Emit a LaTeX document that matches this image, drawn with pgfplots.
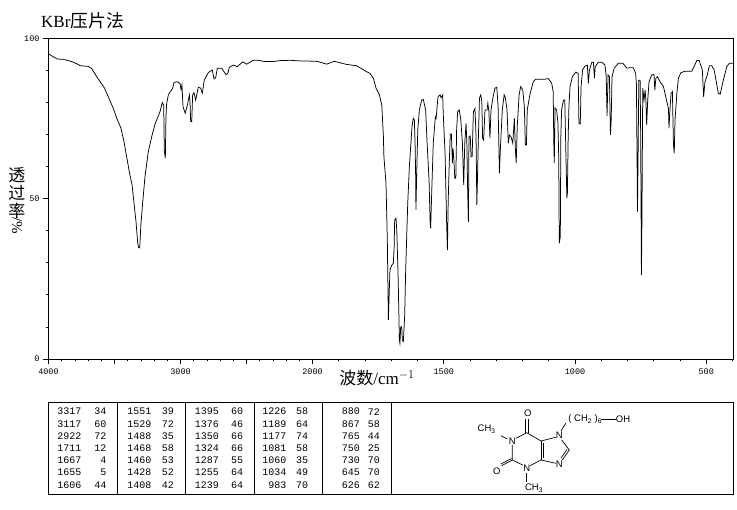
\documentclass[border=0pt]{standalone}
\usepackage{fontspec}
\usepackage{pgfplots}
\pgfplotsset{compat=1.18}
\setmainfont{Liberation Serif}
\setsansfont{Liberation Sans}
\setmonofont{Liberation Mono}
\newfontfamily\cjk{Noto Sans CJK SC}

% one row of the peak table column: wavenumber and %T, right aligned
\newcommand{\tcol}[3]{%
  \foreach \w/\t [count=\i from 0] in {#3} {
    \pgfmathsetmacro{\yy}{411.7+12.2*\i}
    \node[anchor=east,inner sep=0pt,font=\fontsize{10}{10}\selectfont\ttfamily] at (#1,\yy) {\w};
    \node[anchor=east,inner sep=0pt,font=\fontsize{10}{10}\selectfont\ttfamily] at (#2,\yy) {\t};
  }}

\begin{document}
\begin{tikzpicture}
\path (0pt,0pt) rectangle (737pt,-510pt);
\begin{axis}[
    at={(48.5pt,-359pt)}, anchor=south west,
    scale only axis, width=684.8pt, height=320.5pt,
    % the wavenumber axis doubles its scale below 2000
    x coord trafo/.code={\pgfmathparse{#1>=2000 ? 4000-#1 : 2000+1.9886*(2000-#1)}},
    xmin=4000, xmax=397, ymin=0, ymax=100,
    xtick={4000,3500,3000,2500,2000,1500,1000,500},
    xticklabels={4000,,3000,,2000,1500,1000,500},
    minor xtick={3900,3800,3700,3600,3400,3300,3200,3100,2900,2800,2700,2600,2400,2300,2200,2100,1900,1800,1700,1600,1400,1300,1200,1100,900,800,700,600,400},
    ytick={0,50,100},
    yticklabels={0,50,100},
    minor ytick={10,20,30,40,60,70,80,90},
    tick pos=left, tick align=outside,
    major tick length=5.5pt, minor tick length=2.5pt,
    tick style={black,line width=0.8pt},
    axis line style={line width=0.9pt},
    tick label style={font=\fontsize{8.5}{9}\selectfont\ttfamily},
    xticklabel style={yshift=-1pt},
    clip=true,
]
\addplot[black,line width=0.75pt] coordinates {
(4000,95.2)(3964,94.3)(3933,93.6)(3888,93.5)(3824,92.8)(3774,91.9)(3761,91.5)(3698,91.3)(3673,90.6)(3635,88.1)
(3577,84.6)(3547,81.8)(3509,78.2)(3483,75.1)(3451,72.0)(3428,67.8)(3408,63.1)(3388,58.4)(3367,54.3)(3352,48.6)
(3337,42.8)(3324,36.1)(3317,34.7)(3309,34.7)(3301,41.3)(3286,49.1)(3269,56.9)(3244,64.7)(3218,69.4)(3193,73.3)
(3155,77.2)(3138,80.0)(3127,79.2)(3123,65.2)(3115,62.6)(3110,75.6)(3105,79.6)(3092,82.4)(3059,84.5)(3049,86.3)
(3024,86.5)(3004,86.0)(2996,84.1)(2989,85.5)(2981,78.7)(2964,76.7)(2948,79.2)(2933,82.4)(2928,80.3)(2923,74.0)
(2915,74.0)(2908,82.4)(2898,83.1)(2885,80.8)(2865,84.8)(2847,84.5)(2835,82.9)(2820,87.0)(2789,89.4)(2759,90.2)
(2746,87.4)(2733,87.9)(2721,90.7)(2688,90.7)(2655,88.7)(2642,89.1)(2630,91.0)(2600,91.7)(2570,91.2)(2529,92.7)
(2498,92.0)(2448,93.2)(2411,93.2)(2360,92.8)(2297,92.8)(2246,93.1)(2170,93.2)(2095,93.0)(1984,92.9)(1946,92.0)
(1917,92.9)(1870,91.9)(1832,91.5)(1793,89.6)(1781,89.1)(1768,87.6)(1758,84.5)(1745,82.4)(1736,79.2)(1730,69.4)
(1728,63.1)(1720,54.8)(1715,37.1)(1711,12.2)(1707,22.6)(1705,27.8)(1698,29.3)(1692,29.9)(1689,35.0)(1687,43.4)
(1682,43.9)(1679,40.2)(1674,26.2)(1669,5.9)(1667,4.9)(1664,10.1)(1660,10.1)(1658,5.9)(1654,5.4)(1649,13.2)
(1645,27.8)(1640,41.3)(1637,49.1)(1631,60.0)(1626,66.2)(1621,72.5)(1616,75.1)(1612,74.6)(1609,66.2)(1607,56.9)
(1606,46.5)(1603,58.0)(1599,71.4)(1593,77.7)(1584,80.8)(1578,81.0)(1569,77.7)(1564,68.3)(1556,55.8)(1552,42.8)
(1550,40.8)(1546,51.7)(1540,67.3)(1532,75.6)(1529,75.1)(1522,81.8)(1514,82.4)(1510,81.5)(1504,82.4)(1502,76.7)
(1495,64.2)(1489,42.3)(1486,34.0)(1483,49.6)(1479,61.1)(1475,70.2)(1471,70.2)(1467,61.1)(1465,65.7)(1462,63.1)
(1458,56.4)(1454,56.4)(1451,71.4)(1447,77.2)(1441,77.7)(1435,74.6)(1429,67.3)(1424,54.3)(1420,67.3)(1415,73.5)
(1412,67.3)(1409,52.7)(1406,42.8)(1404,69.4)(1399,69.6)(1396,63.1)(1392,63.1)(1387,77.2)(1381,78.2)(1377,69.4)
(1374,48.0)(1372,54.9)(1368,69.4)(1364,81.4)(1359,82.4)(1355,80.3)(1352,68.9)(1348,68.3)(1343,77.7)(1335,77.7)
(1332,79.8)(1328,77.2)(1324,68.9)(1320,77.7)(1313,81.4)(1305,84.5)(1298,84.8)(1293,78.7)(1288,57.9)(1284,66.2)
(1277,77.7)(1270,82.4)(1265,81.4)(1259,77.7)(1254,67.3)(1250,69.9)(1244,69.4)(1237,67.3)(1231,75.1)(1227,65.2)
(1224,61.1)(1220,72.5)(1213,82.4)(1207,85.0)(1199,83.9)(1193,78.7)(1189,66.8)(1185,66.8)(1182,77.7)(1171,82.9)
(1159,86.5)(1150,87.3)(1114,87.3)(1102,87.5)(1089,86.1)(1083,83.4)(1081,68.3)(1079,61.2)(1076,78.3)(1070,77.7)
(1065,73.6)(1062,62.7)(1060,36.1)(1056,38.2)(1054,69.4)(1051,77.7)(1044,80.8)(1039,80.8)(1035,65.2)(1031,50.3)
(1029,51.8)(1026,69.4)(1023,79.2)(1019,85.0)(1010,88.1)(997,89.5)(988,89.1)(985,73.5)(980,73.3)(977,85.0)
(971,90.2)(962,91.4)(953,91.7)(949,86.0)(945,90.2)(936,92.6)(930,92.6)(926,87.6)(923,91.2)(911,92.6)
(898,92.6)(886,91.7)(881,88.1)(878,75.8)(874,88.6)(869,88.1)(865,69.9)(862,75.1)(859,88.1)(851,90.7)
(835,92.3)(818,92.3)(803,90.8)(778,90.9)(769,89.1)(766,85.5)(762,46.0)(760,61.2)(757,87.0)(752,87.0)
(750,71.4)(747,26.2)(745,43.4)(742,84.5)(737,80.8)(733,83.9)(730,80.8)(727,73.0)(723,80.8)(718,86.5)
(708,88.6)(699,88.8)(696,83.9)(692,87.6)(686,88.1)(676,86.5)(663,85.0)(653,81.3)(644,78.2)(642,72.0)
(638,78.2)(634,82.9)(629,83.4)(625,66.8)(622,64.2)(619,74.6)(612,82.9)(606,87.6)(597,89.3)(581,89.8)
(555,89.8)(536,93.1)(527,93.1)(515,90.2)(510,81.8)(505,86.5)(498,88.1)(488,91.5)(479,91.5)(470,90.2)
(454,82.9)(447,82.6)(435,87.0)(422,91.2)(412,92.3)(397,92.3)
};
\end{axis}
\begin{scope}[x=1pt,y=-1pt]
% title and axis titles
\node[anchor=west,inner sep=0pt,font=\fontsize{17}{17}\selectfont] at (41,21) {KBr{\cjk\fontsize{17.8}{17.8}\selectfont 压片法}};
\node[inner sep=0pt,font=\fontsize{17}{17}\selectfont] at (377,378) {{\cjk 波数}/cm$^{-1}$};
\node[inner sep=0pt,font=\fontsize{17}{17}\selectfont\cjk] at (17,175) {透};
\node[inner sep=0pt,font=\fontsize{17}{17}\selectfont\cjk] at (17,193) {过};
\node[inner sep=0pt,font=\fontsize{17}{17}\selectfont\cjk] at (17,211) {率};
\node[rotate=-90,inner sep=0pt,font=\fontsize{15}{15}\selectfont] at (17,226) {/\%};
% peak table frame
\draw[line width=0.9pt] (48.3,402.3) rectangle (733.3,494);
\foreach \xx in {117.3,185.7,254.3,322.7,391} {\draw[line width=0.9pt] (\xx,402.3) -- (\xx,494);}
\tcol{81.7}{106.7}{3317/34,3117/60,2922/72,1711/12,1667/4,1655/5,1606/44}
\tcol{151.7}{174}{1551/39,1529/72,1488/35,1468/58,1460/53,1428/52,1408/42}
\tcol{219}{243.3}{1395/60,1376/46,1350/66,1324/66,1287/55,1255/64,1239/64}
\tcol{286.7}{308.3}{1226/58,1189/64,1177/74,1081/58,1060/35,1034/49,983/70}
\tcol{360}{380}{880/72,867/58,765/44,750/25,730/70,645/70,626/62}
% structure
\begin{scope}[line width=0.7pt,every node/.style={inner sep=0pt,font=\fontsize{9.5}{9.5}\selectfont\sffamily}]
\node at (527.7,413.3) {O};
\node at (496.7,471) {O};
\node at (512.3,441) {N};
\node at (526.7,468.5) {N};
\node at (559.3,435.7) {N};
\node at (559.3,464.3) {N};
\node at (486.7,429.3) {CH$_{\mathsf 3}$};
\node at (534,488.3) {CH$_{\mathsf 3}$};
\node[anchor=west] at (568,419) {( CH$_{\mathsf 2}$ )$_{\mathsf 6}$};
\node at (623,419) {OH};
\draw (525.7,432.7) -- (525.7,419) (528,432.7) -- (528,419);
\draw (516,438.3) -- (526.7,432.7) -- (541,441);
\draw (541,441) -- (541,460) (543,443) -- (543,458);
\draw (541,441) -- (555.7,437.3);
\draw (561.7,440) -- (569.3,450);
\draw (569.3,450) -- (562.3,460) (567,449.5) -- (561,458);
\draw (555.7,463.3) -- (541,460) -- (530,465.7);
\draw (522.7,465) -- (512.3,460) -- (512.3,445);
\draw (512.3,460) -- (501.7,465.7) (511.5,458.5) -- (501,464);
\draw (501,435.7) -- (507.3,439);
\draw (526.7,473.3) -- (526.7,482.3);
\draw (561,431) -- (565.7,423.3);
\draw (600.7,419) -- (615.7,419);
\end{scope}
\end{scope}
\end{tikzpicture}
\end{document}
